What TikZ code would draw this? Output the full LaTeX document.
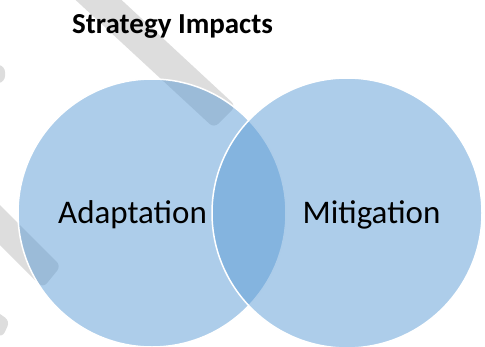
\documentclass[tikz,border=0pt]{standalone}
\usepackage{fontspec}
\setmainfont{Carlito}
\usepackage{tikz}
\usetikzlibrary{positioning}
\tikzstyle{canvas} = [x = 1pt, y = -1pt]
\definecolor{vennBlue}{RGB}{91,155,213}
\definecolor{markGray}{RGB}{221,221,221}
\tikzstyle{vennCircle} = [circle, draw=white, line width=1.5pt, fill=vennBlue, fill opacity=0.5, inner sep=0pt]
\tikzstyle{markStroke} = [fill=markGray, rounded corners=6pt]
\tikzstyle{vennText} = [font=\fontsize{33}{40}\selectfont, inner sep=0pt, anchor=base]
\tikzstyle{titleText} = [font=\fontsize{29}{34}\selectfont\bfseries, inner sep=0pt, anchor=base west]
\newcommand{\vennSet}[4]{\node [vennCircle, minimum size=#3] (#1) at (#2) {}; \node [vennText] (#1Label) at (#4) {#1};}

\begin{document}
\begin{tikzpicture}[canvas]
      \useasboundingbox (0,0) rectangle (485,346);
      \clip (0,0) rectangle (485,346);

      % watermark pieces
      \fill [markStroke] (54,-20) -- (100,-20) -- (236,106) -- (214,128) -- cycle;
      \fill [markStroke] (-20,185) -- (61,266) -- (43,288) -- (-20,225) -- cycle;
      \fill [markStroke] (-20,62) -- (5,66) -- (5,82) -- (-20,86) -- cycle;
      \fill [markStroke] (-20,300) -- (10,321) -- (2,338) -- (-20,320) -- cycle;

      \vennSet{Adaptation}{152,213}{268pt}{132.5,223}
      \vennSet{Mitigation}{347,213}{270pt}{371.5,223}
      \node [titleText] (strategyTitle) at (72,33) {Strategy Impacts};
    \end{tikzpicture}
\end{document}
